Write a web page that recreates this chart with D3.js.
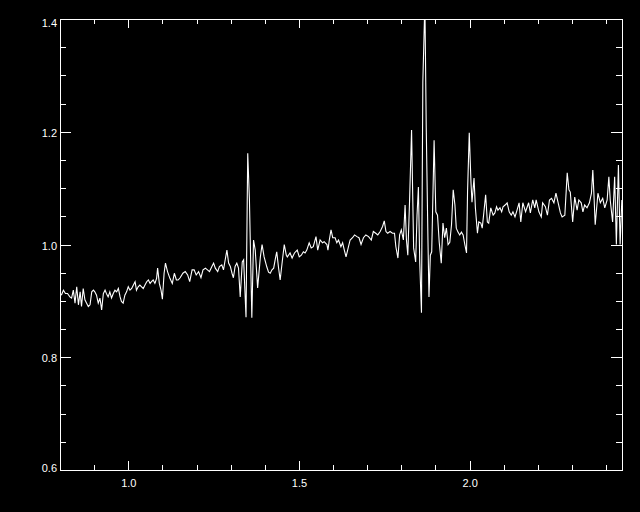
<!DOCTYPE html>
<head>
<style>
body { margin: 0; background: #000; }
svg { display: block; background: #000; }
</style>
</head>
<body>
<svg width="640" height="512"></svg>
<script src="https://d3js.org/d3.v7.min.js"></script>
<script>

// wavelength grid (x axis)
var wave = [
  0.804,0.810,0.816,0.822,0.829,0.834,0.839,0.844,0.849,0.854,
  0.859,0.863,0.868,0.873,0.878,0.883,0.888,0.893,0.898,0.902,
  0.907,0.912,0.917,0.922,0.927,0.932,0.936,0.941,0.946,0.951,
  0.956,0.961,0.966,0.971,0.976,0.980,0.985,0.990,0.995,1.000,
  1.005,1.010,1.015,1.020,1.024,1.029,1.034,1.039,1.044,1.049,
  1.054,1.059,1.064,1.068,1.073,1.078,1.083,1.086,1.091,1.096,
  1.100,1.105,1.109,1.115,1.122,1.129,
  1.135,1.141,1.146,1.152,1.160,1.167,1.174,1.180,1.187,1.193,
  1.199,1.206,1.213,1.219,1.226,1.232,1.238,1.245,1.250,1.255,
  1.262,1.267,1.274,1.279,1.284,1.289,1.294,1.299,1.304,1.308,
  1.313,1.318,1.323,1.328,1.334,1.338,1.345,1.350,1.355,1.362,
  1.367,1.372,1.379,1.387,1.392,1.398,1.406,1.411,1.416,1.421,
  1.426,1.431,1.435,1.440,1.445,1.451,1.457,1.463,
  1.466,1.474,1.480,1.487,1.495,1.501,1.507,1.513,1.518,1.523,
  1.530,1.536,1.542,1.550,1.555,1.562,1.569,1.574,1.582,1.585,
  1.589,1.594,1.599,1.606,1.611,1.616,1.623,1.628,1.633,1.638,
  1.645,1.650,1.657,1.663,1.670,1.676,1.682,1.689,1.696,1.704,
  1.712,1.718,1.725,1.731,1.738,1.745,1.750,1.755,1.760,1.767,
  1.774,1.780,1.784,1.790,
  1.795,1.800,1.806,1.811,1.815,1.819,1.824,1.830,1.836,1.842,
  1.846,1.850,1.854,1.859,1.863,1.869,1.873,1.878,1.881,1.885,
  1.889,1.896,1.901,1.906,1.911,1.917,1.922,1.927,1.932,1.937,
  1.942,1.947,1.952,1.957,1.961,1.966,1.971,1.976,1.981,1.986,
  1.991,1.994,1.999,2.004,2.007,2.013,2.017,2.023,2.027,2.033,
  2.037,2.042,2.047,2.052,2.056,2.062,2.069,2.074,2.079,2.083,
  2.089,2.094,2.098,2.104,2.110,2.116,2.122,2.127,
  2.133,2.139,2.145,2.150,2.156,2.164,2.173,2.178,2.185,2.191,
  2.195,2.203,2.210,2.214,2.222,2.228,2.234,2.240,2.247,2.253,
  2.261,2.266,2.271,2.279,2.286,2.291,2.295,2.302,2.308,2.315,
  2.320,2.327,2.332,2.337,2.344,2.351,2.357,2.361,2.365,2.368,
  2.376,2.383,2.390,2.396,2.403,2.408,2.412,2.419,2.425,2.430,
  2.436,2.441,2.446
];

// flux values, same order as wave
var flux = [
  0.910,0.919,0.913,0.913,0.907,0.905,0.919,0.896,0.925,0.893,
  0.916,0.890,0.922,0.902,0.896,0.890,0.893,0.916,0.919,0.916,
  0.910,0.896,0.905,0.884,0.913,0.919,0.913,0.907,0.916,0.905,
  0.913,0.919,0.916,0.922,0.907,0.899,0.896,0.910,0.916,0.925,
  0.919,0.922,0.928,0.934,0.919,0.925,0.928,0.925,0.922,0.928,
  0.934,0.937,0.931,0.934,0.937,0.931,0.940,0.958,0.931,0.919,
  0.903,0.949,0.967,0.952,0.940,0.931,
  0.949,0.937,0.937,0.941,0.949,0.952,0.946,0.934,0.955,0.955,
  0.946,0.952,0.941,0.955,0.958,0.955,0.952,0.961,0.967,0.958,
  0.952,0.961,0.964,0.955,0.973,0.990,0.967,0.961,0.949,0.941,
  0.961,0.967,0.958,0.907,0.969,0.973,0.871,1.162,1.079,0.870,
  1.008,0.990,0.923,0.978,1.000,0.978,0.960,0.951,0.949,0.955,
  0.958,0.975,0.987,0.960,0.937,0.969,1.000,0.981,
  0.978,0.985,0.976,0.985,0.990,0.978,0.981,0.987,0.985,0.990,
  1.003,0.994,0.996,1.014,0.990,1.008,1.003,1.005,1.000,0.990,
  1.008,1.026,1.012,1.012,1.003,1.008,0.996,1.003,0.990,0.978,
  0.996,1.008,1.012,1.017,1.014,1.012,1.000,1.012,1.017,1.014,
  1.008,1.023,1.020,1.017,1.023,1.032,1.042,1.023,1.020,1.023,
  1.020,1.020,0.996,0.976,
  1.017,1.026,1.008,1.070,1.008,0.981,1.075,1.203,0.994,0.969,
  1.052,1.102,0.967,0.879,1.288,1.430,1.207,1.008,0.907,0.981,
  0.987,1.185,1.058,1.052,1.004,0.967,1.038,1.012,1.029,1.000,
  1.004,1.035,1.097,1.070,1.029,1.022,1.017,1.022,1.017,1.000,
  0.985,1.093,1.198,1.111,1.075,1.118,1.065,1.020,1.040,1.038,
  1.029,1.058,1.088,1.040,1.038,1.065,1.052,1.056,1.067,1.061,
  1.065,1.058,1.067,1.070,1.074,1.058,1.052,1.058,
  1.049,1.061,1.074,1.040,1.074,1.058,1.074,1.056,1.079,1.065,
  1.079,1.058,1.049,1.074,1.067,1.052,1.079,1.082,1.074,1.091,
  1.070,1.056,1.049,1.052,1.127,1.097,1.093,1.040,1.084,1.061,
  1.079,1.074,1.058,1.070,1.065,1.074,1.091,1.132,1.079,1.035,
  1.091,1.074,1.082,1.065,1.079,1.120,1.079,1.040,1.120,1.000,
  1.141,1.000,1.079
];

var xMajor = [1.0, 1.5, 2.0];
var xLabels = ["1.0", "1.5", "2.0"];
var yMajor = [0.6, 0.8, 1.0, 1.2, 1.4];
var yLabels = ["0.6", "0.8", "1.0", "1.2", "1.4"];

var xMinor = d3.range(0.9, 2.45, 0.1);
var yMinor = d3.range(0.65, 1.4, 0.05);

var pLeft = 60, pRight = 622, pTop = 19, pBottom = 470;

var x = d3.scaleLinear().domain([0.8, 2.4465]).range([pLeft, pRight]);
var y = d3.scaleLinear().domain([0.6, 1.4]).range([pBottom, pTop]);

var svg = d3.select("svg");

svg.append("clipPath").attr("id", "plot")
  .append("rect")
    .attr("x", pLeft).attr("y", pTop)
    .attr("width", pRight - pLeft).attr("height", pBottom - pTop);

var data = d3.range(Math.min(wave.length, flux.length)).map(function(i) {
  return {w: wave[i], f: flux[i]};
});

var line = d3.line()
    .x(function(d) { return x(d.w); })
    .y(function(d) { return y(d.f); });

svg.append("path")
    .datum(data)
    .attr("clip-path", "url(#plot)")
    .attr("fill", "none")
    .attr("stroke", "#fff")
    .attr("stroke-width", 1.1)
    .attr("d", line);

// IDL style axes: ticks point inward on all four sides
function styleAxis(g) {
  g.attr("font-family", "'Liberation Sans', Arial, sans-serif")
   .attr("font-size", 11)
   .attr("shape-rendering", "crispEdges");
  g.selectAll("path, line").attr("stroke", "#fff");
  g.selectAll("text").attr("fill", "#fff");
}

var xTickLen = 0.02 * (pBottom - pTop);
var yTickLen = 0.02 * (pRight - pLeft);

// bottom
svg.append("g").attr("transform", "translate(0," + pBottom + ")")
    .call(d3.axisBottom(x).tickValues(xMajor).tickSize(-xTickLen).tickSizeOuter(0)
      .tickPadding(9).tickFormat(function(d, i) { return xLabels[i]; }))
    .call(styleAxis);
svg.append("g").attr("transform", "translate(0," + pBottom + ")")
    .call(d3.axisBottom(x).tickValues(xMinor).tickSize(-xTickLen / 2).tickSizeOuter(0).tickFormat(""))
    .call(styleAxis);

// top
svg.append("g").attr("transform", "translate(0," + pTop + ")")
    .call(d3.axisTop(x).tickValues(xMajor).tickSize(-xTickLen).tickSizeOuter(0).tickFormat(""))
    .call(styleAxis);
svg.append("g").attr("transform", "translate(0," + pTop + ")")
    .call(d3.axisTop(x).tickValues(xMinor).tickSize(-xTickLen / 2).tickSizeOuter(0).tickFormat(""))
    .call(styleAxis);

// left
svg.append("g").attr("transform", "translate(" + pLeft + ",0)")
    .call(d3.axisLeft(y).tickValues(yMajor).tickSize(-yTickLen).tickSizeOuter(0)
      .tickPadding(3).tickFormat(function(d, i) { return yLabels[i]; }))
    .call(styleAxis)
    .selectAll("text")
      .attr("y", function(d) {
        var c = Math.min(Math.max(y(d) + 1, 23), 468);
        return c - y(d);
      });
svg.append("g").attr("transform", "translate(" + pLeft + ",0)")
    .call(d3.axisLeft(y).tickValues(yMinor).tickSize(-yTickLen / 2).tickSizeOuter(0).tickFormat(""))
    .call(styleAxis);

// right
svg.append("g").attr("transform", "translate(" + pRight + ",0)")
    .call(d3.axisRight(y).tickValues(yMajor).tickSize(-yTickLen).tickSizeOuter(0).tickFormat(""))
    .call(styleAxis);
svg.append("g").attr("transform", "translate(" + pRight + ",0)")
    .call(d3.axisRight(y).tickValues(yMinor).tickSize(-yTickLen / 2).tickSizeOuter(0).tickFormat(""))
    .call(styleAxis);

</script>
</body>
